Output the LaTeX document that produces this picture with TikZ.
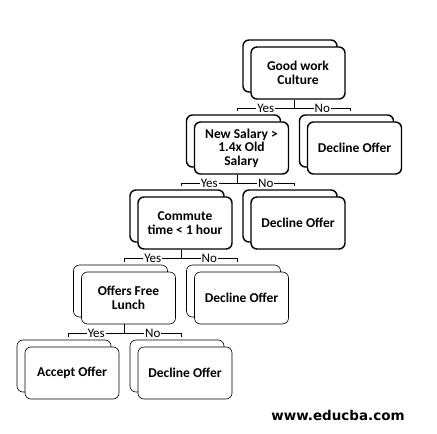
\documentclass[tikz,border=0pt]{standalone}
\usepackage{fontspec}
\setmainfont{Carlito}
\newfontfamily\sitefont{DejaVu Sans}
\usetikzlibrary{shadows}

\begin{document}
\begin{tikzpicture}[
  x=1pt, y=1pt,
  level distance=75pt,
  sibling distance=113pt,
  box/.style={rectangle, rounded corners=6pt, draw, fill=white, line width=#1,
    minimum width=94pt, minimum height=52pt, align=center, inner xsep=2pt,
    font=\bfseries\fontsize{13.5}{13.5}\selectfont,
    copy shadow={shadow xshift=-8pt, shadow yshift=7pt, draw, fill=white, line width=#1}},
  box/.default=1.4pt,
  lbl/.style={fill=white, inner sep=1pt, pos=0.25, font=\fontsize{13}{13}\selectfont},
  edge from parent/.style={draw, line width=0.6pt},
  edge from parent path={([xshift=-4pt]\tikzparentnode.south) -- ++(0,-9pt)
    -| ([xshift=-4pt,yshift=10pt]\tikzchildnode.north)}
]
  \useasboundingbox (0,0) rectangle (437,-434);
  \node[box] (culture) at (298,-73) {Good work\\Culture}
    child {node[box] (salary) {New Salary >\\1.4x Old\\Salary}
      child {node[box] (commute) {Commute\\time < 1 hour}
        child {node[box=0.6pt] (lunch) {Offers Free\\Lunch}
          child {node[box=0.6pt] (accept) {Accept Offer}
            edge from parent node[lbl] {Yes}}
          child {node[box=0.6pt] (decline4) {Decline Offer}
            edge from parent node[lbl] {No}}
          edge from parent node[lbl] {Yes}
        }
        child {node[box=0.6pt] (decline3) {Decline Offer}
          edge from parent node[lbl] {No}}
        edge from parent node[lbl] {Yes}
      }
      child {node[box] (decline2) {Decline Offer}
        edge from parent node[lbl] {No}}
      edge from parent node[lbl] {Yes}
    }
    child {node[box] (decline1) {Decline Offer}
      edge from parent node[lbl] {No}};
  % watermark
  \node[font=\sitefont\bfseries\fontsize{13.5}{13.5}\selectfont] (site) at (338,-415) {www.educba.com};
\end{tikzpicture}
\end{document}
